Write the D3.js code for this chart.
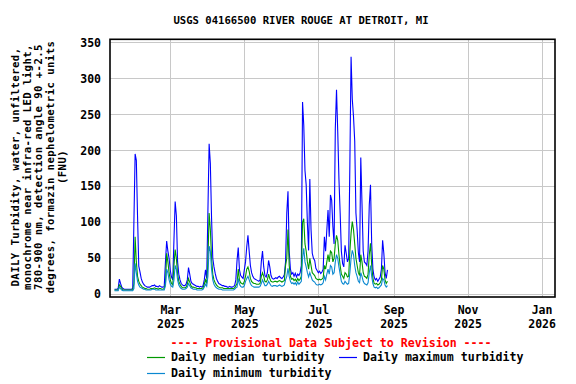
<!DOCTYPE html>
<html>
<head>
<meta charset="utf-8">
<script src="https://cdn.jsdelivr.net/npm/d3@7"></script>
<style>
  body { margin: 0; background: #fff; }
  text { font-family: "DejaVu Sans Mono", monospace; font-weight: bold; }
</style>
</head>
<body>
<svg width="576" height="384"></svg>
<script>
var svg = d3.select("svg"),
  width = +svg.attr("width"),
  height = +svg.attr("height");

// daily values, first day is 2025-01-14
var startDay = "2025-01-14";
var maxVals = [7,7,7,8,21,15,10,8,7,7,7,7,7,7,7,8,
  101,195,186,108,39,31,22,
  17,14,12,11,10,10,10,11,12,12,13,11,11,10,12,11,10,10,11,
  45,74,60,50,33,24,20,75,129,109,45,28,20,15,
  13,12,12,14,20,37,28,18,15,
  14,13,12,11,11,10,11,10,12,
  20,34,22,116,209,182,106,50,38,29,22,18,
  15,14,13,12,12,11,11,10,10,11,10,10,11,12,
  20,47,65,34,26,24,22,34,45,66,82,60,40,30,25,
  22,21,20,19,18,20,
  45,60,38,26,24,30,47,38,26,
  22,21,22,23,22,24,25,23,22,24,27,
  45,113,143,60,35,28,
  30,25,29,24,28,26,30,
  40,267,235,172,152,99,61,160,90,57,50,47,
  36,33,30,32,29,31,35,
  80,60,89,117,80,138,131,94,70,230,284,226,160,113,60,43,38,68,57,45,50,
  180,330,271,247,213,113,89,58,45,190,126,60,45,43,40,60,124,152,70,35,24,
  20,22,18,21,24,
  35,75,57,30,22,34];
var medianVals = [6,6,6,6,13,11,8,6,6,6,6,6,6,6,6,6,
  15,80,45,25,18,14,12,
  10,9,8,8,7,7,7,8,8,8,9,8,8,7,8,8,7,7,8,
  15,57,45,30,20,15,13,40,62,50,28,18,14,11,
  9,9,9,10,14,22,17,12,10,
  10,9,9,8,8,8,8,8,9,
  14,20,15,45,113,90,50,28,20,16,13,11,
  10,9,9,9,8,8,8,8,8,8,8,8,8,9,
  12,15,35,20,16,15,14,18,25,35,38,32,22,18,16,
  15,15,14,14,14,15,
  25,30,25,18,17,20,28,22,18,
  17,17,18,18,17,18,19,18,17,18,19,
  40,50,90,40,25,21,
  22,19,21,18,22,19,21,
  25,100,105,70,60,45,35,50,40,30,28,26,
  22,21,20,21,20,21,23,
  40,35,45,55,45,60,58,45,50,70,82,75,55,40,28,25,22,30,28,24,25,
  60,85,101,90,70,50,40,30,26,55,45,30,25,24,22,28,55,71,40,22,15,
  14,15,13,14,16,
  20,40,35,20,15,18];
var minVals = [5,5,5,5,10,8,6,5,5,5,5,5,5,5,5,5,
  8,43,30,18,13,10,9,
  8,7,7,6,6,6,6,6,7,7,7,6,6,6,6,6,6,6,6,
  12,35,30,20,14,11,10,20,40,35,20,13,10,8,
  7,7,7,8,10,15,12,9,8,
  7,7,7,6,6,6,6,6,7,
  10,14,11,25,67,60,35,20,14,11,9,8,
  7,7,7,6,6,6,6,6,6,6,6,6,6,7,
  9,10,22,14,11,10,10,12,18,22,25,20,15,12,11,
  10,10,10,10,10,11,
  15,20,16,12,12,14,18,15,12,
  11,12,12,12,11,12,13,12,11,12,13,
  20,25,36,25,18,15,
  16,14,16,13,17,14,16,
  18,50,64,45,38,30,24,30,25,20,18,17,
  14,13,13,14,13,14,16,
  25,20,28,35,28,40,38,28,30,45,55,50,38,28,18,15,14,18,16,14,15,
  30,50,61,55,40,30,25,18,16,30,25,18,15,14,13,16,30,40,25,15,10,
  9,10,8,9,11,
  13,22,20,13,10,12];

var yTicks = [0, 50, 100, 150, 200, 250, 300, 350];
var xTicks = ["2025-03-01", "2025-05-01", "2025-07-01", "2025-09-01", "2025-11-01", "2026-01-01"];
var xTickMonths = ["Mar", "May", "Jul", "Sep", "Nov", "Jan"];
var xTickYears = ["2025", "2025", "2025", "2025", "2025", "2026"];

var seriesNames = ["Daily median turbidity", "Daily maximum turbidity", "Daily minimum turbidity"];
var seriesColors = ["#009900", "#0000ff", "#0a88d0"];

var yLabel = [
  "DAILY Turbidity, water, unfiltered,",
  "monochrome near infra-red LED light,",
  "780-900 nm, detection angle 90 +-2.5",
  "degrees, formazin nephelometric units",
  "(FNU)"
];

var plotLeft = 110, plotRight = 555, plotTop = 39.3, plotBottom = 297;

var parse = d3.utcParse("%Y-%m-%d");
var start = parse(startDay);
var days = maxVals.map(function (d, i) { return d3.utcDay.offset(start, i); });

var xScale = d3
  .scaleUtc()
  .domain([new Date(Date.UTC(2025, 0, 10, 7)), new Date(Date.UTC(2026, 0, 12, 2))])
  .range([plotLeft, plotRight]);
var yScale = d3.scaleLinear().domain([-3.75, 354.2]).range([plotBottom, plotTop]);

// grid
svg.append("g")
  .selectAll("line")
  .data(yTicks)
  .enter()
  .append("line")
  .attr("x1", plotLeft).attr("x2", plotRight)
  .attr("y1", function (d) { return Math.round(yScale(d)) + 0.5; })
  .attr("y2", function (d) { return Math.round(yScale(d)) + 0.5; })
  .attr("stroke", "#c8c8c8");
svg.append("g")
  .selectAll("line")
  .data(xTicks)
  .enter()
  .append("line")
  .attr("x1", function (d) { return Math.round(xScale(parse(d))) + 0.5; })
  .attr("x2", function (d) { return Math.round(xScale(parse(d))) + 0.5; })
  .attr("y1", plotTop).attr("y2", plotBottom)
  .attr("stroke", "#c8c8c8");

// series
function drawSeries(vals, color) {
  var line = d3.line()
    .x(function (d, i) { return xScale(days[i]); })
    .y(function (d) { return yScale(d); });
  svg.append("path")
    .datum(vals)
    .attr("d", line)
    .attr("fill", "none")
    .attr("stroke", color)
    .attr("stroke-width", 1.1);
}
drawSeries(maxVals, seriesColors[1]);
drawSeries(medianVals, seriesColors[0]);
drawSeries(minVals, seriesColors[2]);

// frame
svg.append("rect")
  .attr("x", plotLeft).attr("y", plotTop)
  .attr("width", plotRight - plotLeft).attr("height", plotBottom - plotTop)
  .attr("fill", "none")
  .attr("stroke", "black")
  .attr("stroke-width", 1.6);

// axes
var yAxis = d3.axisLeft(yScale).tickValues(yTicks).tickSize(0).tickPadding(9);
var gy = svg.append("g")
  .attr("transform", "translate(" + plotLeft + ",0)")
  .call(yAxis);
gy.select(".domain").remove();
gy.selectAll("text").attr("font-size", 11.5).attr("font-family", null).attr("fill", "black");

var xAxis = d3.axisBottom(xScale).tickValues(xTicks.map(parse)).tickSize(0);
var gx = svg.append("g")
  .attr("transform", "translate(0," + plotBottom + ")")
  .call(xAxis);
gx.select(".domain").remove();
gx.selectAll(".tick text")
  .attr("font-size", 11.5).attr("font-family", null).attr("fill", "black")
  .attr("y", 0).attr("dy", null)
  .text(null)
  .each(function (d, i) {
    var t = d3.select(this);
    t.append("tspan").attr("x", 0).attr("y", 17).text(xTickMonths[i]);
    t.append("tspan").attr("x", 0).attr("y", 31).text(xTickYears[i]);
  });

// title
svg.append("text")
  .attr("x", 301).attr("y", 24)
  .attr("text-anchor", "middle")
  .attr("font-size", 10.6)
  .text("USGS 04166500 RIVER ROUGE AT DETROIT, MI");

// y label
var yl = svg.append("g").attr("transform", "translate(0,167) rotate(-90)");
yl.selectAll("text")
  .data(yLabel)
  .enter()
  .append("text")
  .attr("x", 0)
  .attr("y", function (d, i) { return 19 + 11.7 * i; })
  .attr("text-anchor", "middle")
  .attr("font-size", 10.6)
  .attr("letter-spacing", 0.45)
  .text(function (d) { return d; });

// provisional note
svg.append("text")
  .attr("x", 331).attr("y", 347)
  .attr("text-anchor", "middle")
  .attr("font-size", 11.6)
  .attr("fill", "red")
  .text("---- Provisional Data Subject to Revision ----");

// legend
var legendPos = [[147, 357], [339, 357], [147, 373]];
var lg = svg.append("g").selectAll("g")
  .data(seriesNames)
  .enter()
  .append("g")
  .attr("transform", function (d, i) { return "translate(" + legendPos[i][0] + "," + legendPos[i][1] + ")"; });
lg.append("line")
  .attr("x1", 0).attr("x2", 18)
  .attr("y1", 0.5).attr("y2", 0.5)
  .attr("stroke", function (d, i) { return seriesColors[i]; })
  .attr("stroke-width", 1.2);
lg.append("text")
  .attr("x", 24).attr("y", 4)
  .attr("font-size", 11.6)
  .text(function (d) { return d; });
</script>
</body>
</html>
